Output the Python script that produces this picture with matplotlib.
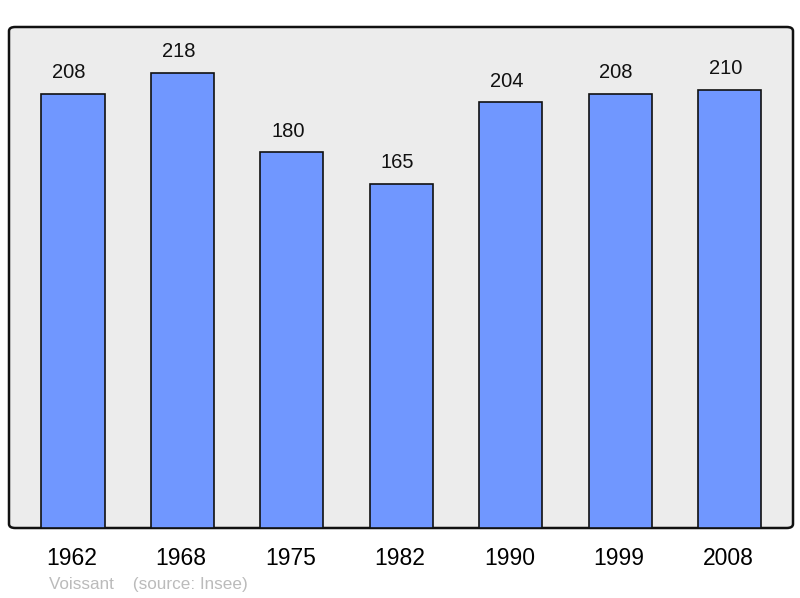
import matplotlib.pyplot as plt
from matplotlib.patches import FancyBboxPatch

plt.rcParams['font.family'] = ['Liberation Sans', 'DejaVu Sans']

years = ['1962', '1968', '1975', '1982', '1990', '1999', '2008']
population = [208, 218, 180, 165, 204, 208, 210]

fig = plt.figure(figsize=(8, 5.98), dpi=100)
ax = fig.add_axes([9/800, 1 - 528/598, 784/800, 501/598])
ax.set_facecolor('none')

# rounded frame behind the bars
frame = FancyBboxPatch((0, 0), 1, 1, boxstyle='round,pad=0,rounding_size=0.008',
                       transform=ax.transAxes, facecolor='#ececec',
                       edgecolor='#111111', linewidth=1.8, clip_on=False, zorder=0)
ax.add_patch(frame)

x = range(len(years))
ax.bar(x, population, width=0.576, color='#7097ff', edgecolor='#111111',
       linewidth=1.2, zorder=2)
for xi, v in zip(x, population):
    ax.annotate(str(v), (xi, v), xytext=(-4, 21), textcoords='offset pixels',
                ha='center', va='center', fontsize=14.5, color='#111111')

ax.set_xlim(-0.585, 6.58)
ax.set_ylim(0, 240)
for s in ax.spines.values():
    s.set_visible(False)
ax.set_yticks([])
ax.set_xticks([xi - 0.012 for xi in x])
ax.set_xticklabels(years, fontsize=16.5)
ax.tick_params(axis='x', length=0, pad=14)

fig.text(49/800, 1 - 584/598, 'Voissant    (source: Insee)', fontsize=12.3,
         color='#bbbbbb', va='center', ha='left')

fig.savefig('out.png', dpi=100)
